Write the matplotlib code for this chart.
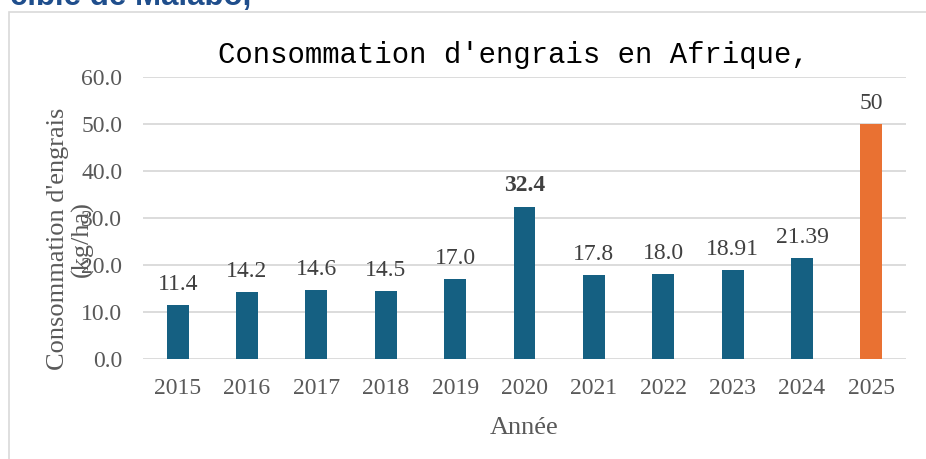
import matplotlib
matplotlib.use("Agg")
import matplotlib.pyplot as plt
from matplotlib.patches import Rectangle

years = ["2015", "2016", "2017", "2018", "2019", "2020", "2021", "2022", "2023", "2024", "2025"]
values = [11.4, 14.2, 14.6, 14.5, 17.0, 32.4, 17.8, 18.0, 18.91, 21.39, 50]
labels = ["11.4", "14.2", "14.6", "14.5", "17.0", "32.4", "17.8", "18.0", "18.91", "21.39", "50"]
yticks = [0, 10, 20, 30, 40, 50, 60]
ytick_labels = ["0.0", "10.0", "20.0", "30.0", "40.0", "50.0", "60.0"]

W, H = 926, 459
fig = plt.figure(figsize=(W / 100, H / 100), dpi=100)

serif = ["Liberation Serif", "DejaVu Serif"]
BLUE = "#156082"
ORANGE = "#E97132"
GRID = "#D9D9D9"

# outer chart frame
fig.patches.append(Rectangle((9 / W, -0.05), 1.1, 1 - 12 / H + 0.05, transform=fig.transFigure,
                             facecolor="none", edgecolor=GRID, linewidth=1.2, clip_on=False))

# cut-off heading text above
fig.text(10 / W, 1 - 5 / H, "ciblé de Malabo,", fontsize=22.5, fontweight="bold",
         family=["Liberation Sans", "DejaVu Sans"], color="#1F4E8C", ha="left", va="baseline")

ax = fig.add_axes([143 / W, 1 - 359 / H, (906 - 143) / W, (359 - 77) / H])
x = list(range(len(years)))
colors = [BLUE] * (len(years) - 1) + [ORANGE]
ax.bar(x, values, width=0.315, color=colors, zorder=3)

ax.set_xlim(-0.5, len(years) - 0.5)
ax.set_ylim(0, 60)
ax.set_yticks(yticks)
ax.set_yticklabels(ytick_labels)
ax.set_xticks(x)
ax.set_xticklabels(years)
ax.tick_params(axis="both", length=0, labelsize=17, labelcolor="#595959")
ax.tick_params(axis="y", pad=15)
ax.tick_params(axis="x", pad=14)
for lab in ax.get_xticklabels() + ax.get_yticklabels():
    lab.set_family(serif)
ax.grid(axis="y", color=GRID, linewidth=1.3, zorder=0)
for s in ax.spines.values():
    s.set_visible(False)

for xi, v, t in zip(x, values, labels):
    ax.annotate(t, (xi, v), xytext=(0, 11), textcoords="offset points",
                ha="center", va="baseline", fontsize=17, family=serif, color="#404040",
                fontweight="bold" if t == "32.4" else "normal")

fig.text(513 / W, 1 - 63 / H, "Consommation d'engrais en Afrique,", fontsize=20.8,
         family=["Liberation Mono", "DejaVu Sans Mono"], color="#000000", ha="center", va="baseline")

fig.text(524 / W, 1 - 434 / H, "Année", fontsize=19, family=serif, color="#595959",
         ha="center", va="baseline")

fig.text(70 / W, 1 - 239 / H, "Consommation d'engrais\n(kg/ha)", rotation=90, fontsize=19,
         family=serif, color="#595959", ha="center", va="center", multialignment="center",
         linespacing=1.1)

fig.savefig("out.png", dpi=100)
